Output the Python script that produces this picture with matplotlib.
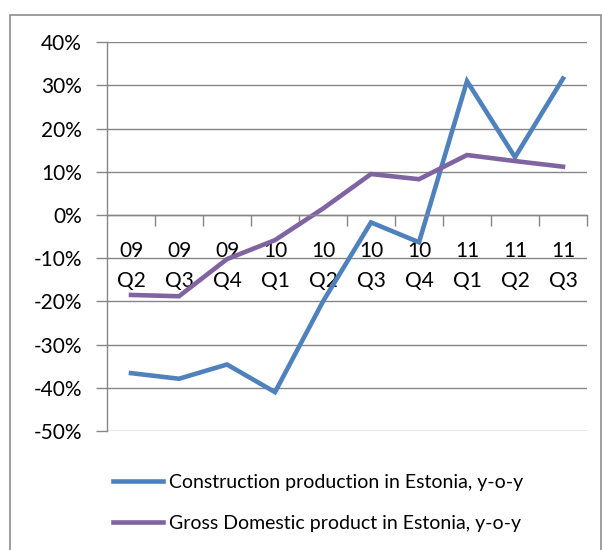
import matplotlib
matplotlib.use("Agg")
import matplotlib.pyplot as plt
from matplotlib.patches import Rectangle
from matplotlib.ticker import FixedLocator, FuncFormatter

# quarters on the x axis
years = ["09", "09", "09", "10", "10", "10", "10", "11", "11", "11"]
quarters = ["Q2", "Q3", "Q4", "Q1", "Q2", "Q3", "Q4", "Q1", "Q2", "Q3"]

# y-o-y change, %
construction = [-36.6, -37.9, -34.6, -41.0, -20.0, -1.7, -6.3, 31.0, 13.4, 31.6]
gdp = [-18.5, -18.8, -10.2, -5.8, 1.5, 9.5, 8.3, 13.9, 12.5, 11.2]

label_constr = "Construction production in Estonia, y-o-y"
label_gdp = "Gross Domestic product in Estonia, y-o-y"

blue = "#4F81BD"
purple = "#8064A2"
grid_col = "#868686"

plt.rcParams['font.family'] = ['Lato', 'DejaVu Sans']

fig = plt.figure(figsize=(6.02, 5.5), dpi=100)
ax = fig.add_axes([107 / 602, 1 - 431 / 550, 480 / 602, (431 - 42.3) / 550])

# рамка вокруг диаграммы
fig.patches.append(Rectangle((10 / 602, -0.1), 591 / 602, 1.1 - 14.5 / 550,
                             transform=fig.transFigure, fill=False,
                             edgecolor="#8c8c8c", linewidth=1.2))

x = list(range(len(quarters)))
l1, = ax.plot(x, construction, color=blue, linewidth=3.3, solid_joinstyle='miter',
              label=label_constr)
l2, = ax.plot(x, gdp, color=purple, linewidth=3.3, solid_joinstyle='miter',
              label=label_gdp)

ax.set_xlim(-0.5, len(quarters) - 0.5)
ax.set_ylim(-50, 40)
ax.set_yticks(range(-50, 41, 10))
ax.yaxis.set_major_formatter(FuncFormatter(lambda v, p: f"{int(v)}%"))
ax.grid(axis='y', color=grid_col, linewidth=1)
ax.set_axisbelow(True)

# ось X проходит через 0
for s in ['top', 'right']:
    ax.spines[s].set_visible(False)
ax.spines['bottom'].set_position(('data', 0))
ax.spines['bottom'].set_color(grid_col)
ax.spines['left'].set_color(grid_col)
ax.spines['bottom'].set_linewidth(1)
ax.spines['left'].set_linewidth(1)

ax.set_xticks(x)
ax.set_xticklabels([f"{a}\n{b}" for a, b in zip(years, quarters)], linespacing=1.6)
ax.xaxis.set_minor_locator(FixedLocator([i + 0.5 for i in x]))
ax.tick_params(axis='x', which='major', length=0, pad=19, labelsize=15)
ax.tick_params(axis='x', which='minor', length=8, width=1, color=grid_col, direction='out')
ax.tick_params(axis='y', length=8, width=1, color=grid_col, pad=10, labelsize=15)

fig.legend(handles=[l1, l2], loc='upper left', bbox_to_anchor=(105 / 602, 1 - 466 / 550),
           frameon=False, fontsize=14, handlelength=2.6, handletextpad=0.3,
           labelspacing=1.25, borderaxespad=0)

fig.savefig("out.png", dpi=100)
